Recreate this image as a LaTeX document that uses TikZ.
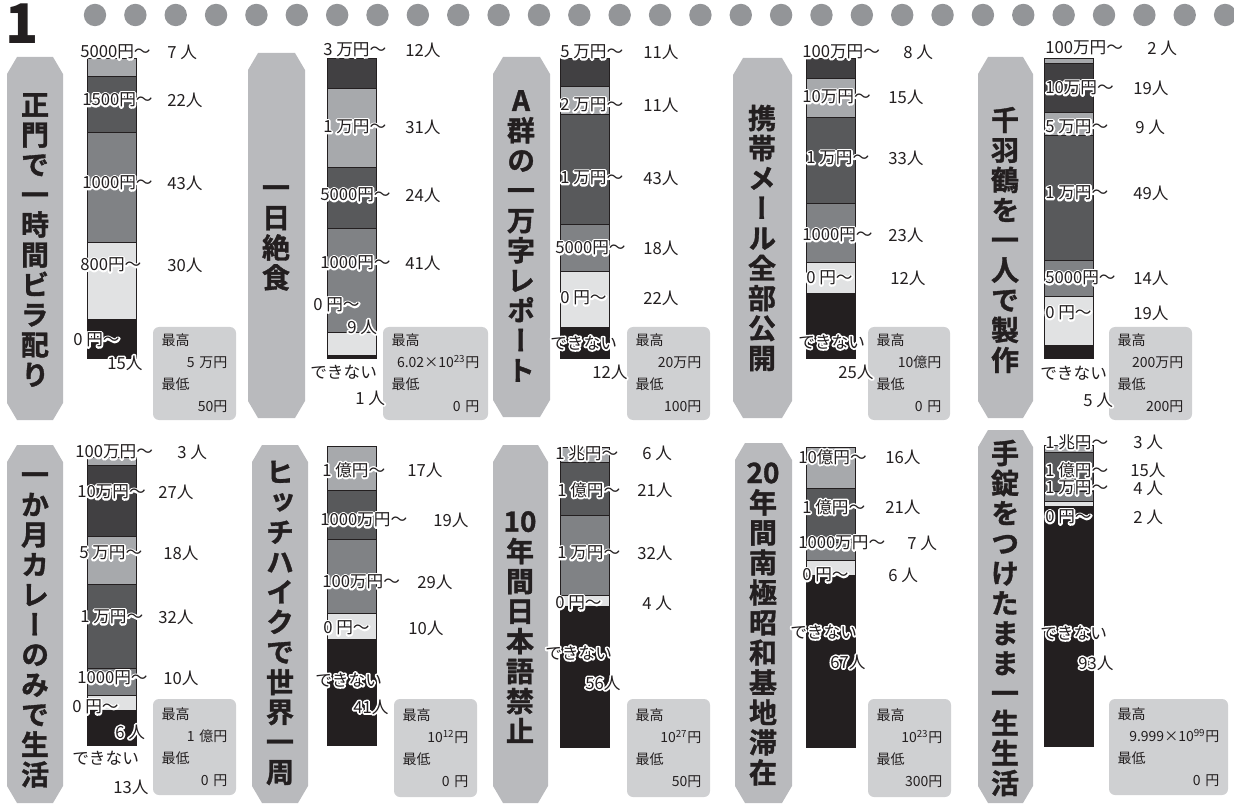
\documentclass[tikz,border=0pt]{standalone}
\usepackage{fontspec}
\setmainfont{Noto Sans CJK JP}
\newfontfamily\tatefont[RawFeature=+vert, UprightFont=* Bold, FakeBold=1.3]{Noto Sans CJK JP}
\usetikzlibrary{calc}
\definecolor{pillgray}{RGB}{185,186,189}
\definecolor{boxgray}{RGB}{207,208,210}
\definecolor{dotgray}{RGB}{147,149,152}
\definecolor{segA}{RGB}{167,169,172}
\definecolor{segB}{RGB}{65,64,66}
\definecolor{segC}{RGB}{88,89,91}
\definecolor{segD}{RGB}{128,130,133}
\definecolor{segE}{RGB}{225,226,227}
\definecolor{segF}{RGB}{35,31,32}
\definecolor{ink}{RGB}{35,31,32}

% white outline behind a label (stroked copy, then the text)
\newcommand\halo[1]{\leavevmode\rlap{\special{pdf:literal 1 Tr 2.6 w 1 1 1 RG 1 j}#1\special{pdf:literal 0 Tr 0 0 0 RG 0.4 w 0 j}}#1}
% title plate with cut corners
\newcommand\pill[4]{\fill[pillgray] (#1+10,#2) -- (#3-10,#2) -- (#3,#2+17) -- (#3,#4-17) -- (#3-10,#4) -- (#1+10,#4) -- (#1,#4-17) -- (#1,#2+17) -- cycle;}
% stacked bar: x, top, bottom, total, count/colour list
\newcommand\pricebar[5]{%
  \foreach \segn/\segc [evaluate=\segn as \segend using \segstart+\segn, remember=\segend as \segstart (initially 0)] in {#5}
    \filldraw[fill=\segc, draw=ink, line width=0.4pt] (#1,{#2+(#3-#2)/#4*\segstart}) rectangle (#1+49,{#2+(#3-#2)/#4*\segend});
  \draw[ink, line width=0.7pt] (#1,#2) rectangle (#1+49,#3);
}
% max / min box: name, x1, y1, x2, y2, max, min
\newcommand\infobox[7]{%
  \pgfmathsetmacro\boxw{(#4-#2)*0.75}\pgfmathsetmacro\boxh{(#5-#3)*0.75}\pgfmathsetmacro\boxtw{\boxw-13}
  \node[infobox, minimum width=\boxw pt, minimum height=\boxh pt, text width=\boxtw pt] (#1) at ({(#2+#4)/2},{(#3+#5)/2+2}) {最高\\\hspace*{\fill}#6\\最低\\\hspace*{\fill}#7};
}

\tikzset{
  title/.style={font=\tatefont\fontsize{21}{22.5}\selectfont, align=center, inner sep=0pt, text=ink},
  price/.style={anchor=west, inner sep=0pt, font=\fontsize{12.5}{14}\selectfont, text=ink},
  count/.style={price},
  infobox/.style={fill=boxgray, rounded corners=4.5pt, inner xsep=6.5pt, inner ysep=0pt, align=left, font=\fontsize{10.5}{16.5}\selectfont, text=ink},
}

\begin{document}
\begin{tikzpicture}[x=0.75pt, y=-0.75pt]
    \useasboundingbox (0,0) rectangle (1234,805);

    % header
    \node[font=\bfseries\fontsize{41}{41}\selectfont, text=ink, inner sep=0pt] (num) at (22,24) {1};
    \foreach \i in {0,...,28}
        \fill[dotgray] (95+40.36*\i,15) circle[radius=8.4pt];

    % ---- top row ----
    % 正門で一時間ビラ配り
    \pill{7}{57}{63}{420}
    \node[title] (t1) at (35,240) {正\\門\\で\\一\\時\\間\\ビ\\ラ\\配\\り};
    \pricebar{87}{58}{358}{117}{7/segA,22/segC,43/segD,30/segE,15/segF}
    \infobox{i1}{153}{325}{236}{418}{5 万円}{50円}

    % 一日絶食
    \pill{248}{53}{305}{418}
    \node[title] (t2) at (276,238) {一\\日\\絶\\食};
    \pricebar{327}{58}{358}{118}{12/segB,31/segA,24/segC,41/segD,9/segE,1/segF}
    \infobox{i2}{383}{325}{488}{418}{6.02×10\textsuperscript{23}円}{0 円}

    % A群の一万字レポート
    \pill{493}{57}{550}{417}
    \node[title] (t3) at (521,236) {A\\群\\の\\一\\万\\字\\レ\\ポ\\ー\\ト};
    \pricebar{560}{58}{358}{117}{11/segB,11/segA,43/segC,18/segD,22/segE,12/segF}
    \infobox{i3}{627}{325}{710}{418}{20万円}{100円}

    % 携帯メール全部公開
    \pill{733}{58}{792}{418}
    \node[title] (t4) at (762,238) {携\\帯\\メ\\ー\\ル\\全\\部\\公\\開};
    \pricebar{806}{58}{358}{116}{8/segB,15/segA,33/segC,23/segD,12/segE,25/segF}
    \infobox{i4}{868}{325}{950}{418}{10億円}{0 円}

    % 千羽鶴を一人で製作
    \pill{978}{57}{1033}{418}
    \node[title] (t5) at (1005,240) {千\\羽\\鶴\\を\\一\\人\\で\\製\\作};
    \pricebar{1044}{58}{358}{117}{2/segA,19/segB,9/segA,49/segC,14/segD,19/segE,5/segF}
    \infobox{i5}{1109}{325}{1192}{418}{200万円}{200円}

    % ---- bottom row ----
    % 一か月カレーのみで生活
    \pill{7}{445}{63}{803}
    \node[title] (t6) at (35,630) {一\\か\\月\\カ\\レ\\ー\\の\\み\\で\\生\\活};
    \pricebar{87}{457}{745}{109}{3/segA,27/segB,18/segA,32/segC,10/segD,6/segE,13/segF}
    \infobox{i6}{153}{697}{236}{793}{1 億円}{0 円}

    % ヒッチハイクで世界一周
    \pill{252}{445}{308}{803}
    \node[title] (t7) at (280,623) {ヒ\\ッ\\チ\\ハ\\イ\\ク\\で\\世\\界\\一\\周};
    \pricebar{327}{446}{745}{116}{17/segA,19/segC,29/segD,10/segE,41/segF}
    \infobox{i7}{394}{697}{477}{795}{10\textsuperscript{12}円}{0 円}

    % 10年間日本語禁止
    \pill{493}{445}{548}{803}
    \node[title] (t8) at (520,627) {10\\年\\間\\日\\本\\語\\禁\\止};
    \pricebar{560}{447}{747}{119}{6/segA,21/segC,32/segD,4/segE,56/segF}
    \infobox{i8}{627}{697}{710}{795}{10\textsuperscript{27}円}{50円}

    % 20年間南極昭和基地滞在
    \pill{735}{443}{792}{803}
    \node[title] (t9) at (763,624) {20\\年\\間\\南\\極\\昭\\和\\基\\地\\滞\\在};
    \pricebar{806}{447}{747}{117}{16/segA,21/segC,7/segD,6/segE,67/segF}
    \infobox{i9}{868}{697}{951}{795}{10\textsuperscript{23}円}{300円}

    % 手錠をつけたまま一生生活
    \pill{978}{430}{1033}{803}
    \node[title] (t10) at (1005,618) {手\\錠\\を\\つ\\け\\た\\ま\\ま\\一\\生\\生\\活};
    \pricebar{1044}{445}{746}{117}{3/segA,15/segC,4/segD,2/segE,93/segF}
    \infobox{i10}{1109}{697}{1228}{793}{9.999×10\textsuperscript{99}円}{0 円}

    % ---- labels (on top of the bars) ----
    \foreach \x/\y/\t [count=\i] in {80/52/5000円～, 82/100/1500円～, 82/183/1000円～, 80/265/800円～, 73/340/0 円～, 107/363/15人}
        \node[price] (a1-\i) at (\x,\y) {\halo{\t}};
    \foreach \x/\y/\t [count=\i] in {167/52/7 人, 167/100/22人, 167/183/43人, 167/265/30人}
        \node[count] (n1-\i) at (\x,\y) {\t};

    \foreach \x/\y/\t [count=\i] in {323/50/3 万円～, 323/127/1 万円～, 320/195/5000円～, 320/263/1000円～, 313/305/0 円～, 347/327/9 人, 310/372/できない, 355/398/1 人}
        \node[price] (a2-\i) at (\x,\y) {\halo{\t}};
    \foreach \x/\y/\t [count=\i] in {405/50/12人, 405/127/31人, 405/195/24人, 405/263/41人}
        \node[count] (n2-\i) at (\x,\y) {\t};

    \foreach \x/\y/\t [count=\i] in {560/52/5 万円～, 560/105/2 万円～, 560/178/1 万円～, 555/248/5000円～, 560/298/0 円～, 550/343/できない, 592/372/12人}
        \node[price] (a3-\i) at (\x,\y) {\halo{\t}};
    \foreach \x/\y/\t [count=\i] in {643/52/11人, 643/105/11人, 643/178/43人, 643/248/18人, 643/298/22人}
        \node[count] (n3-\i) at (\x,\y) {\t};

    \foreach \x/\y/\t [count=\i] in {802/52/100万円～, 802/97/10万円～, 806/158/1 万円～, 802/235/1000円～, 806/278/0 円～, 798/342/できない, 838/372/25人}
        \node[price] (a4-\i) at (\x,\y) {\halo{\t}};
    \foreach \x/\y/\t [count=\i] in {903/52/8 人, 888/97/15人, 888/158/33人, 888/235/23人, 890/278/12人}
        \node[count] (n4-\i) at (\x,\y) {\t};

    \foreach \x/\y/\t [count=\i] in {1045/48/100万円～, 1045/88/10万円～, 1045/127/5 万円～, 1045/193/1 万円～, 1045/278/5000円～, 1045/313/0 円～, 1040/373/できない, 1083/400/5 人}
        \node[price] (a5-\i) at (\x,\y) {\halo{\t}};
    \foreach \x/\y/\t [count=\i] in {1147/48/2 人, 1133/88/19人, 1135/127/9 人, 1133/193/49人, 1133/278/14人, 1133/313/19人}
        \node[count] (n5-\i) at (\x,\y) {\t};

    \foreach \x/\y/\t [count=\i] in {75/452/100万円～, 77/492/10万円～, 79/553/5 万円～, 80/617/1 万円～, 77/678/1000円～, 72/707/0 円～, 115/732/6 人, 72/758/できない, 113/787/13人}
        \node[price] (a6-\i) at (\x,\y) {\halo{\t}};
    \foreach \x/\y/\t [count=\i] in {177/452/3 人, 158/492/27人, 163/553/18人, 158/617/32人, 163/678/10人}
        \node[count] (n6-\i) at (\x,\y) {\t};

    \foreach \x/\y/\t [count=\i] in {322/470/1 億円～, 320/520/1000万円～, 322/582/100万円～, 323/628/0 円～, 315/680/できない, 353/707/41人}
        \node[price] (a7-\i) at (\x,\y) {\halo{\t}};
    \foreach \x/\y/\t [count=\i] in {407/470/17人, 433/520/19人, 417/582/29人, 408/628/10人}
        \node[count] (n7-\i) at (\x,\y) {\t};

    \foreach \x/\y/\t [count=\i] in {555/453/1 兆円～, 557/490/1 億円～, 557/553/1 万円～, 555/603/0 円～, 545/653/できない, 585/683/56人}
        \node[price] (a8-\i) at (\x,\y) {\halo{\t}};
    \foreach \x/\y/\t [count=\i] in {642/453/6 人, 637/490/21人, 637/553/32人, 642/603/4 人}
        \node[count] (n8-\i) at (\x,\y) {\t};

    \foreach \x/\y/\t [count=\i] in {798/457/10億円～, 802/507/1 億円～, 798/543/1000万円～, 802/575/0 円～, 790/632/できない, 830/662/67人}
        \node[price] (a9-\i) at (\x,\y) {\halo{\t}};
    \foreach \x/\y/\t [count=\i] in {885/457/16人, 885/507/21人, 907/543/7 人, 888/575/6 人}
        \node[count] (n9-\i) at (\x,\y) {\t};

    \foreach \x/\y/\t [count=\i] in {1045/442/1 兆円～, 1045/470/1 億円～, 1045/488/1 万円～, 1045/517/0 円～, 1040/633/できない, 1078/663/93人}
        \node[price] (a10-\i) at (\x,\y) {\halo{\t}};
    \foreach \x/\y/\t [count=\i] in {1133/442/3 人, 1130/470/15人, 1133/488/4 人, 1133/517/2 人}
        \node[count] (n10-\i) at (\x,\y) {\t};
\end{tikzpicture}
\end{document}
